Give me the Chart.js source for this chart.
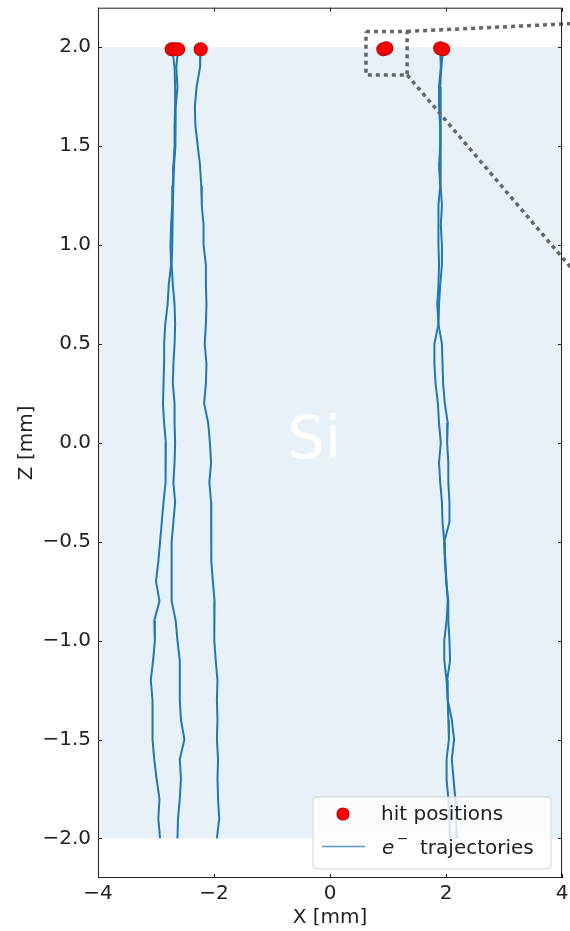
<!DOCTYPE html>
<html>
<head>
<meta charset="utf-8">
<script src="https://cdn.jsdelivr.net/npm/chart.js"></script>
<style>
  html, body { margin: 0; padding: 0; background: #fff; }
  #chart { display: block; }
</style>
</head>
<body>
<canvas id="chart" width="570" height="931"></canvas>
<script>
// depth samples (mm), shared by every trajectory
const zSteps = [1.99, 1.9, 1.8, 1.7, 1.6, 1.5, 1.4, 1.3, 1.2, 1.1,
  1.0, 0.9, 0.8, 0.7, 0.6, 0.5, 0.4, 0.3, 0.2, 0.1,
  0.0, -0.1, -0.2, -0.3, -0.4, -0.5, -0.6, -0.7, -0.8, -0.9,
  -1.0, -1.1, -1.2, -1.3, -1.4, -1.5, -1.6, -1.7, -1.8, -1.9, -2.0];

// x of each electron track at those depths
const trackA = [-2.72, -2.68, -2.67, -2.67, -2.68, -2.68, -2.70, -2.71, -2.72, -2.74,
  -2.75, -2.74, -2.78, -2.80, -2.84, -2.86, -2.86, -2.87, -2.88, -2.86,
  -2.83, -2.83, -2.84, -2.87, -2.90, -2.93, -2.96, -3.00, -2.94, -3.03,
  -3.02, -3.05, -3.09, -3.06, -3.06, -3.06, -3.03, -2.99, -2.94, -2.96, -2.93];
const trackB = [-2.62, -2.65, -2.63, -2.66, -2.67, -2.66, -2.69, -2.70, -2.71, -2.72,
  -2.72, -2.73, -2.71, -2.68, -2.67, -2.68, -2.70, -2.71, -2.68, -2.68,
  -2.67, -2.68, -2.70, -2.67, -2.70, -2.73, -2.73, -2.73, -2.73, -2.66,
  -2.63, -2.59, -2.59, -2.59, -2.57, -2.51, -2.59, -2.57, -2.59, -2.62, -2.63];
const trackC = [-2.23, -2.24, -2.30, -2.33, -2.32, -2.28, -2.24, -2.22, -2.21, -2.18,
  -2.18, -2.14, -2.14, -2.13, -2.14, -2.16, -2.13, -2.14, -2.17, -2.10,
  -2.07, -2.05, -2.08, -2.05, -2.04, -2.05, -2.05, -2.02, -1.99, -1.99,
  -2.00, -1.97, -1.94, -1.95, -1.94, -1.95, -1.93, -1.94, -1.93, -1.91, -1.95];
const trackD = [1.90, 1.91, 1.88, 1.88, 1.90, 1.90, 1.88, 1.90, 1.87, 1.87,
  1.87, 1.88, 1.87, 1.85, 1.87, 1.80, 1.80, 1.82, 1.86, 1.88,
  1.91, 1.88, 1.90, 1.93, 1.94, 1.97, 1.98, 2.01, 2.03, 2.01,
  1.97, 1.97, 2.01, 2.03, 2.04, 2.05, 2.01, 2.01, 2.04, 2.06, 2.07];
const trackE = [1.95, 1.92, 1.90, 1.91, 1.91, 1.91, 1.90, 1.91, 1.93, 1.91,
  1.93, 1.93, 1.90, 1.88, 1.87, 1.93, 1.94, 1.95, 1.98, 2.03,
  2.02, 2.04, 2.04, 2.06, 2.06, 1.97, 1.99, 2.00, 2.04, 2.04,
  2.06, 2.07, 2.02, 2.03, 2.10, 2.14, 2.10, 2.13, 2.16, 2.17, 2.19];
const tracks = [trackA, trackB, trackC, trackD, trackE];

// hit positions on the top surface
const hitX = [-2.73, -2.68, -2.62, -2.23, 0.92, 0.97, 1.90, 1.95];
const hitZ = [1.99, 1.99, 1.99, 1.99, 1.99, 1.995, 1.995, 1.99];

// silicon slab
const siliconX = [-4, 4];
const siliconZ = [-2, 2];
const siLabel = [-0.27, 0.0];

// zoom box + connector lines toward the (cropped) inset
const zoomBoxX = [0.62, 1.33, 1.33, 0.62, 0.62];
const zoomBoxZ = [2.08, 2.08, 1.86, 1.86, 2.08];
const connectorX = [1.33, 4.2];
const connectorTopZ = [2.08, 2.12];
const connectorBottomZ = [1.86, 0.87];

const xTicks = [-4, -2, 0, 2, 4];
const yTicks = [-2.0, -1.5, -1.0, -0.5, 0.0, 0.5, 1.0, 1.5, 2.0];

const FONT = 'DejaVu Sans';
const TEXT = '#222';
const BLUE = '#1f77b4';

const minus = s => String(s).replace('-', '\u2212');
const pts = (xs, zs) => xs.map((x, i) => ({ x: x, y: zs[i] }));

const datasets = [];

// hits on top
datasets.push({
  label: 'hit positions', data: pts(hitX, hitZ), order: 0,
  pointRadius: 6.5, pointBackgroundColor: '#ff0000', pointBorderColor: '#c40000',
  pointBorderWidth: 1.2, showLine: false
});

datasets.push({
  data: pts(zoomBoxX, zoomBoxZ), order: 1, showLine: true, pointRadius: 0,
  borderColor: '#666', borderWidth: 3.5, borderDash: [4, 4], clip: false
});
datasets.push({
  data: pts(connectorX, connectorTopZ), order: 1, showLine: true, pointRadius: 0,
  borderColor: '#666', borderWidth: 3.5, borderDash: [4, 4], clip: false
});
datasets.push({
  data: pts(connectorX, connectorBottomZ), order: 1, showLine: true, pointRadius: 0,
  borderColor: '#666', borderWidth: 3.5, borderDash: [4, 4], clip: false
});

tracks.forEach(t => {
  datasets.push({
    data: pts(t, zSteps), order: 2, showLine: true, pointRadius: 0,
    borderColor: BLUE, borderWidth: 2, tension: 0
  });
});

// shaded Si region
datasets.push({
  data: pts(siliconX, [siliconZ[1], siliconZ[1]]), order: 3, showLine: true,
  pointRadius: 0, borderWidth: 0, borderColor: 'rgba(0,0,0,0)',
  backgroundColor: 'rgba(31,119,180,0.1)', fill: { value: siliconZ[0] }
});

const framePlugin = {
  id: 'frame',
  afterDatasetsDraw(chart) {
    const { ctx, chartArea: a, scales: { x, y } } = chart;
    ctx.save();
    // Si label
    ctx.fillStyle = '#fff';
    ctx.font = '58px ' + FONT;
    ctx.textAlign = 'center';
    ctx.textBaseline = 'middle';
    ctx.fillText('Si', x.getPixelForValue(siLabel[0]), y.getPixelForValue(siLabel[1]));

    // frame
    ctx.strokeStyle = TEXT;
    ctx.lineWidth = 1;
    ctx.strokeRect(a.left + 0.5, a.top + 0.5, a.right - a.left - 1, a.bottom - a.top - 1);

    // inward ticks
    const tl = 4;
    ctx.beginPath();
    xTicks.forEach(v => {
      const px = Math.round(x.getPixelForValue(v)) + 0.5;
      ctx.moveTo(px, a.bottom); ctx.lineTo(px, a.bottom - tl);
      ctx.moveTo(px, a.top); ctx.lineTo(px, a.top + tl);
    });
    yTicks.forEach(v => {
      const py = Math.round(y.getPixelForValue(v)) + 0.5;
      ctx.moveTo(a.left, py); ctx.lineTo(a.left + tl, py);
      ctx.moveTo(a.right, py); ctx.lineTo(a.right - tl, py);
    });
    ctx.stroke();
    ctx.restore();
  },
  afterDraw(chart) {
    const { ctx, chartArea: a } = chart;
    const w = 238, h = 72;
    const lx = a.right - 249, ly = a.bottom - 81;
    ctx.save();
    // legend box
    const r = 4;
    ctx.beginPath();
    ctx.moveTo(lx + r, ly);
    ctx.lineTo(lx + w - r, ly); ctx.quadraticCurveTo(lx + w, ly, lx + w, ly + r);
    ctx.lineTo(lx + w, ly + h - r); ctx.quadraticCurveTo(lx + w, ly + h, lx + w - r, ly + h);
    ctx.lineTo(lx + r, ly + h); ctx.quadraticCurveTo(lx, ly + h, lx, ly + h - r);
    ctx.lineTo(lx, ly + r); ctx.quadraticCurveTo(lx, ly, lx + r, ly);
    ctx.closePath();
    ctx.fillStyle = 'rgba(255,255,255,0.8)';
    ctx.fill();
    ctx.strokeStyle = '#d6d6d6';
    ctx.lineWidth = 1;
    ctx.stroke();

    // marker entry
    ctx.beginPath();
    ctx.arc(lx + 30, ly + 17, 6, 0, Math.PI * 2);
    ctx.fillStyle = '#ff0000';
    ctx.fill();
    ctx.strokeStyle = '#c40000';
    ctx.lineWidth = 1.2;
    ctx.stroke();

    ctx.fillStyle = TEXT;
    ctx.textBaseline = 'middle';
    ctx.textAlign = 'left';
    ctx.font = '20px ' + FONT;
    ctx.fillText('hit positions', lx + 68, ly + 18);

    // line entry
    ctx.beginPath();
    ctx.moveTo(lx + 9, ly + 49.5); ctx.lineTo(lx + 52, ly + 49.5);
    ctx.strokeStyle = 'rgba(31,119,180,0.75)';
    ctx.lineWidth = 1.5;
    ctx.stroke();

    ctx.font = 'italic 20px ' + FONT;
    ctx.fillText('e', lx + 69, ly + 52);
    ctx.font = '14px ' + FONT;
    ctx.fillText('\u2212', lx + 84, ly + 42);
    ctx.font = '20px ' + FONT;
    ctx.fillText('trajectories', lx + 107, ly + 52);
    ctx.restore();
  }
};

new Chart(document.getElementById('chart'), {
  type: 'scatter',
  data: { datasets: datasets },
  options: {
    responsive: false,
    animation: false,
    devicePixelRatio: 1,
    layout: { padding: { left: 0, right: 8, top: 6, bottom: 0 } },
    plugins: { legend: { display: false }, tooltip: { enabled: false } },
    scales: {
      x: {
        type: 'linear', min: -4, max: 4,
        afterBuildTicks: s => { s.ticks = xTicks.map(v => ({ value: v })); },
        afterFit: s => { s.height = 53; s.paddingLeft = 0; s.paddingRight = 0; },
        grid: { display: false, drawTicks: false },
        border: { display: false },
        ticks: { color: TEXT, font: { family: FONT, size: 20 }, padding: 4,
          callback: v => minus(v) },
        title: { display: true, text: 'X [mm]', color: TEXT,
          font: { family: FONT, size: 20 }, padding: { top: 0, bottom: 1 } }
      },
      y: {
        type: 'linear', min: -2.2, max: 2.2,
        afterBuildTicks: s => { s.ticks = yTicks.map(v => ({ value: v })); },
        afterFit: s => { s.width = 98; s.paddingTop = 0; s.paddingBottom = 0; },
        grid: { display: false, drawTicks: false },
        border: { display: false },
        ticks: { color: TEXT, font: { family: FONT, size: 20 }, padding: 7,
          callback: v => minus(v.toFixed(1)) },
        title: { display: true, text: 'Z [mm]', color: TEXT,
          font: { family: FONT, size: 20 }, padding: { top: 15, bottom: 0 } }
      }
    }
  },
  plugins: [framePlugin]
});
</script>
</body>
</html>
